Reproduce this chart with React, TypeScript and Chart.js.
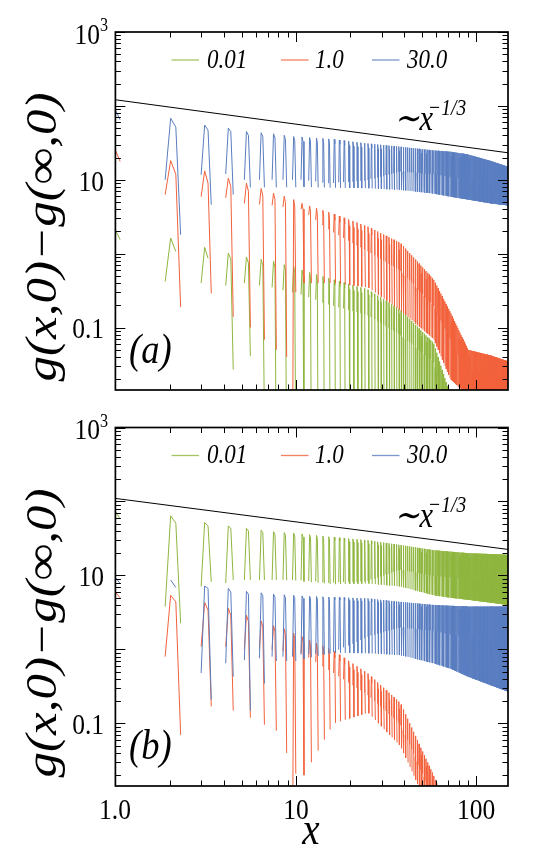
import React, { useEffect, useRef, useState } from "react";
import { Chart, registerables } from "chart.js";
Chart.register(...registerables);

// ---------- axes ----------
const X_MIN = 1;
const X_MAX = 150;
const Y_MIN = 0.0143;
const Y_MAX = 1000;
const xTickValues = [1, 10, 100];
const xTickLabels = ["1.0", "10", "100"];
const yTickValues = [1000, 10, 0.1];
const yTickBase = ["10", "10", "0.1"];
const yTickExp = ["3", "", ""];
const seriesNames = ["0.01", "1.0", "30.0"];
const seriesColors = ["#8fb63f", "#f2623c", "#5a7ec0"];

// sampling of the curves as seen in the picture: 8 samples per oscillation,
// the first 4 of each oscillation positive (drawn), the rest negative (gaps)
const SAMPLE_START = 0.787;
const SAMPLE_STEP = 0.1375;
const SAMPLES_PER_PERIOD = 8;

// envelope anchors (x at the centre of an oscillation)
const anchorX = [0.993, 2.093, 3.193, 4.293, 5.393, 7.593, 8.693, 9.793, 10.893, 16, 25, 38, 58, 72, 90, 120, 150];

// ---- panel (a): values of the 4 visible samples of every oscillation ----
const aGreenP0 = [3, 0.42, 0.4, 0.37, 0.4, 0.35, 0.32, 0.3, 0.28, 0.2, 0.15, 0.08, 0.035, 0.005, 0.001, 0.001, 0.001];
const aGreenP1 = [3.1, 1.63, 1.22, 1.02, 0.9, 0.79, 0.71, 0.68, 0.6, 0.45, 0.33, 0.175, 0.062, 0.012, 0.001, 0.001, 0.001];
const aGreenP2 = [1.55, 1.07, 0.87, 0.85, 0.75, 0.66, 0.6, 0.56, 0.5, 0.38, 0.28, 0.15, 0.05, 0.01, 0.001, 0.001, 0.001];
const aGreenP3 = [null, null, null, 0.027, 0.041, 0.001, 0.001, 0.001, 0.001, 0.001, 0.001, 0.001, 0.001, 0.001, 0.001, 0.001, 0.001];

const aRedP0 = [40, 6.3, 5.9, 5.7, 4.8, 4.5, 4.3, 0.001, 4.0, 2.0, 1.1, 0.6, 0.2, 0.07, 0.025, 0.022, 0.02];
const aRedP1 = [40, 18.2, 13.2, 10.5, 9, 6.6, 6, 5.4, 4.8, 3.5, 2.34, 1.4, 0.45, 0.16, 0.05, 0.042, 0.035];
const aRedP2 = [17.7, 11.9, 9.0, 8.1, 7.0, 5.4, 4.9, 4.4, 4.0, 2.9, 1.9, 1.1, 0.35, 0.12, 0.04, 0.032, 0.028];
const aRedP3 = [null, 0.19, 0.29, 0.14, 0.1, 0.05, 0.04, 0.3, 0.4, 0.4, 0.35, 0.17, 0.07, 0.02, 0.012, 0.012, 0.012];

const aBlueP0 = [20, 10, 11.7, 12, 10, 10, 10, 10, 10, 9, 10, 13, 12, 11, 10, 8, 7];
const aBlueP1 = [130, 68, 55, 50, 45, 42, 40, 38.5, 38, 35.5, 31, 28, 25, 24, 22, 18, 15];
const aBlueP2 = [65, 51.5, 47, 45, 40, 37, 35, 34, 33, 31, 27, 24.5, 22, 21, 19, 16, 13.5];
const aBlueP3 = [null, 1.8, 4.6, 6.3, 7.9, 7.9, 7.9, 7.9, 8, 7.8, 7.7, 7.3, 6.5, 5.9, 5.4, 4.8, 4.5];

// ---- panel (b) ----
const bGreenP0 = [20, 3.8, 7.1, 7.9, 8.7, 8.7, 8.7, 8.7, 8.6, 8, 8.5, 12, 10, 9.5, 9, 8.8, 8.7];
const bGreenP1 = [100, 64, 52, 46.7, 43.4, 39, 38, 37.4, 36.5, 33, 30, 25.8, 22, 21, 20, 19.5, 19];
const bGreenP2 = [58, 51, 46.7, 43.4, 40, 36, 35, 34, 33, 30, 27, 23, 19.5, 18.5, 18, 17.5, 17];
const bGreenP3 = [null, 2.26, 8.2, 8.7, 8.7, 8.7, 8.6, 8.5, 8.3, 7.6, 7.8, 7.1, 5.4, 5.0, 4.7, 4.3, 4.0];

const bRedP0 = [null, 0.8, 1.09, 1.09, 1.0, 1.0, 0.95, 0.001, 0.9, 0.5, 0.25, 0.1, 0.01, 0.001, 0.001, 0.001, 0.001];
const bRedP1 = [7.5, 5.4, 4.3, 3.6, 2.9, 2.1, 1.9, 1.66, 1.5, 0.98, 0.48, 0.19, 0.02, 0.005, 0.001, 0.001, 0.001];
const bRedP2 = [5.0, 4.4, 3.4, 2.9, 2.4, 1.75, 1.6, 1.4, 1.25, 0.8, 0.4, 0.15, 0.016, 0.004, 0.001, 0.001, 0.001];
const bRedP3 = [null, 0.07, 0.17, 0.15, 0.12, 0.08, 0.04, 0.021, 0.02, 0.1, 0.14, 0.049, 0.005, 0.001, 0.001, 0.001, 0.001];

const bBlueP0 = [null, null, 0.48, 0.65, 0.72, 0.8, 0.8, 0.8, 0.85, 0.9, 1.5, 2.0, 1.8, 1.6, 1.5, 1.3, 1.2];
const bBlueP1 = [12, 8.7, 7.2, 6.7, 6.1, 5.6, 5.5, 5.4, 5.3, 5.1, 4.9, 4.4, 4.0, 3.9, 3.8, 3.8, 3.8];
const bBlueP2 = [7.8, 6.9, 6.7, 6.0, 5.6, 5.1, 5.0, 5.0, 4.9, 4.7, 4.5, 4.0, 3.7, 3.6, 3.5, 3.5, 3.5];
const bBlueP3 = [null, null, 0.21, 0.43, 0.15, 0.7, 0.7, 0.7, 0.75, 0.9, 0.89, 0.84, 0.65, 0.55, 0.43, 0.33, 0.27];

// the ~x^(-1/3) guide line (end points)
const guideX = [1, 150];
const guideA = [121, 23.2];
const guideB = [110, 22.5];

type Val = number | null;

function envelopeAt(values: Val[], xc: number): Val {
  if (xc <= anchorX[0]) return values[0];
  const last = anchorX.length - 1;
  if (xc >= anchorX[last]) return values[last];
  for (let i = 0; i < last; i++) {
    const x0 = anchorX[i], x1 = anchorX[i + 1];
    if (Math.abs(xc - x0) < 1e-6) return values[i];
    if (Math.abs(xc - x1) < 1e-6) return values[i + 1];
    if (xc > x0 && xc < x1) {
      const v0 = values[i], v1 = values[i + 1];
      if (v0 == null || v1 == null) return null;
      const t = (Math.log(xc) - Math.log(x0)) / (Math.log(x1) - Math.log(x0));
      return Math.exp(Math.log(v0) + t * (Math.log(v1) - Math.log(v0)));
    }
  }
  return null;
}

function buildPoints(phases: Val[][]) {
  const pts: { x: number; y: Val }[] = [];
  const period = SAMPLE_STEP * SAMPLES_PER_PERIOD;
  const centreOffset = SAMPLE_STEP * 1.5;
  for (let k = 0; ; k++) {
    const x = SAMPLE_START + SAMPLE_STEP * k;
    if (x > X_MAX + 1.5) break;
    const n = Math.floor(k / SAMPLES_PER_PERIOD);
    const ph = k % SAMPLES_PER_PERIOD;
    if (ph >= 4) {
      if (ph === 4) pts.push({ x, y: null });
      continue;
    }
    const xc = SAMPLE_START + n * period + centreOffset;
    pts.push({ x, y: envelopeAt(phases[ph], xc) });
  }
  return pts;
}

const SERIF = "'Liberation Serif', 'Times New Roman', serif";
const SX = 0.85; // horizontal squeeze of the lettering in the picture
const ASC = 0.8375; // baseline position inside a line-height:1 box (Liberation Serif)

type Label = {
  text: string;
  x: number;
  y: number; // baseline
  size: number;
  italic?: boolean;
  align: 0 | 0.5 | 1;
  rotate?: boolean;
};

function makeFrame(panel: "a" | "b") {
  return {
    id: "frame" + panel,
    afterDatasetsDraw(chart: any) {
      const ctx: CanvasRenderingContext2D = chart.ctx;
      const a = chart.chartArea;
      const xs = chart.scales.x;
      const ys = chart.scales.y;
      ctx.save();
      ctx.strokeStyle = "#000";
      ctx.lineWidth = 1;
      ctx.beginPath();
      for (let d = 1; d <= 100; d *= 10) {
        for (let m = 1; m <= 9; m++) {
          const v = m * d;
          if (v < X_MIN || v > X_MAX) continue;
          const p = Math.round(xs.getPixelForValue(v)) + 0.5;
          const L = m === 1 ? 10 : 5.5;
          ctx.moveTo(p, a.bottom);
          ctx.lineTo(p, a.bottom - L);
          ctx.moveTo(p, a.top);
          ctx.lineTo(p, a.top + L);
        }
      }
      for (let e = -2; e <= 3; e++) {
        for (let m = 1; m <= 9; m++) {
          const v = m * Math.pow(10, e);
          if (v < Y_MIN || v > Y_MAX * 1.0001) continue;
          const p = Math.round(ys.getPixelForValue(v)) + 0.5;
          const L = m === 1 ? 10 : 5.5;
          ctx.moveTo(a.left, p);
          ctx.lineTo(a.left + L, p);
          ctx.moveTo(a.right, p);
          ctx.lineTo(a.right - L, p);
        }
      }
      ctx.stroke();
      ctx.lineWidth = 1.7;
      ctx.strokeRect(a.left, a.top, a.right - a.left, a.bottom - a.top);

      // legend line samples
      const legLineX = [171.5, 281, 372];
      const ly = a.top + 28;
      seriesNames.forEach((_, i) => {
        ctx.strokeStyle = seriesColors[i];
        ctx.globalAlpha = 0.8;
        ctx.lineWidth = 1.3;
        ctx.beginPath();
        ctx.moveTo(legLineX[i], ly);
        ctx.lineTo(legLineX[i] + 27.5, ly);
        ctx.stroke();
      });
      ctx.restore();
    },
  };
}

function labelsFor(panel: "a" | "b", chart: any): Label[] {
  const a = chart.chartArea;
  const xs = chart.scales.x;
  const ys = chart.scales.y;
  const out: Label[] = [];
  yTickValues.forEach((v, i) => {
    const p = ys.getPixelForValue(v);
    if (yTickExp[i]) {
      out.push({ text: yTickBase[i], x: a.left - 15, y: p + 12, size: 30, align: 1 });
      out.push({ text: yTickExp[i], x: a.left - 15, y: p - 1, size: 19, align: 0 });
    } else {
      out.push({ text: yTickBase[i], x: a.left - 11, y: p + 11, size: 30, align: 1 });
    }
  });
  if (panel === "b") {
    xTickValues.forEach((v, i) => {
      out.push({ text: xTickLabels[i], x: xs.getPixelForValue(v), y: a.bottom + 33, size: 30, align: 0.5 });
    });
    out.push({ text: "x", x: (a.left + a.right) / 2 - 1, y: a.bottom + 59, size: 46, italic: true, align: 0.5 });
  }
  out.push({
    text: "g(x,0)\u2212g(\u221e,0)",
    x: 42,
    y: (a.top + a.bottom) / 2 + 26,
    size: 51,
    italic: true,
    align: 0.5,
    rotate: true,
  });
  const legTextX = [206.5, 315, 407];
  seriesNames.forEach((name, i) => {
    out.push({ text: name, x: legTextX[i], y: a.top + 36.5, size: 27, italic: true, align: 0 });
  });
  const gy = panel === "a" ? a.top + 98 : a.top + 99.5;
  out.push({ text: "\u223cx", x: 394, y: gy, size: 36, italic: true, align: 0 });
  out.push({ text: "\u22121/3", x: 428, y: gy - 15, size: 23, italic: true, align: 0 });
  out.push({ text: panel === "a" ? "(a)" : "(b)", x: 129, y: a.bottom - 27, size: 43, italic: true, align: 0 });
  return out;
}

function makeConfig(panel: "a" | "b") {
  const isA = panel === "a";
  const green = isA ? [aGreenP0, aGreenP1, aGreenP2, aGreenP3] : [bGreenP0, bGreenP1, bGreenP2, bGreenP3];
  const red = isA ? [aRedP0, aRedP1, aRedP2, aRedP3] : [bRedP0, bRedP1, bRedP2, bRedP3];
  const blue = isA ? [aBlueP0, aBlueP1, aBlueP2, aBlueP3] : [bBlueP0, bBlueP1, bBlueP2, bBlueP3];
  const guide = isA ? guideA : guideB;
  const top = isA ? 32 : 427.5;
  const bottom = isA ? 390 : 786;
  const ds = (label: string, color: string, data: any, order: number) => ({
    label,
    data,
    borderColor: color,
    backgroundColor: color,
    borderWidth: 1,
    pointRadius: 0,
    tension: 0,
    spanGaps: false,
    order,
  });
  return {
    type: "line" as const,
    data: {
      datasets: [
        ds("guide", "#000", guideX.map((x, i) => ({ x, y: guide[i] })), 0),
        ds(seriesNames[0], seriesColors[0], buildPoints(green), 3),
        ds(seriesNames[1], seriesColors[1], buildPoints(red), 2),
        ds(seriesNames[2], seriesColors[2], buildPoints(blue), 1),
      ],
    },
    options: {
      responsive: false,
      animation: false,
      events: [],
      layout: { padding: { left: 115.4, right: 540 - 508, top, bottom: 849 - bottom } },
      plugins: { legend: { display: false }, tooltip: { enabled: false } },
      scales: {
        x: { type: "logarithmic", min: X_MIN, max: X_MAX, display: false },
        y: { type: "logarithmic", min: Y_MIN, max: Y_MAX, display: false },
      },
    },
    plugins: [makeFrame(panel)],
  };
}

function TextLabel({ l }: { l: Label }) {
  const base: React.CSSProperties = {
    position: "absolute",
    whiteSpace: "nowrap",
    lineHeight: 1,
    fontFamily: SERIF,
    fontSize: l.size,
    fontStyle: l.italic ? "italic" : "normal",
    color: "#000",
    transformOrigin: "0 0",
  };
  if (l.rotate) {
    return (
      <div style={{ ...base, left: l.x, top: l.y, transform: `scaleX(${SX}) rotate(-90deg) translate(-50%, -50%)` }}>{l.text}</div>
    );
  }
  return (
    <div
      style={{
        ...base,
        left: l.x,
        top: l.y - ASC * l.size,
        transform: `scaleX(${SX}) translateX(${-l.align * 100}%)`,
      }}
    >
      {l.text}
    </div>
  );
}

export default function App() {
  const refA = useRef<HTMLCanvasElement>(null);
  const refB = useRef<HTMLCanvasElement>(null);
  const [labels, setLabels] = useState<Label[]>([]);
  useEffect(() => {
    const ca = new Chart(refA.current!, makeConfig("a") as any);
    const cb = new Chart(refB.current!, makeConfig("b") as any);
    setLabels([...labelsFor("a", ca), ...labelsFor("b", cb)]);
    return () => {
      ca.destroy();
      cb.destroy();
    };
  }, []);
  const st: React.CSSProperties = { position: "absolute", left: 0, top: 0, width: 540, height: 849 };
  return (
    <div style={{ position: "absolute", left: 0, top: 0, width: 540, height: 849, background: "#fff", overflow: "hidden" }}>
      <canvas ref={refA} width={540} height={849} style={st} />
      <canvas ref={refB} width={540} height={849} style={st} />
      {labels.map((l, i) => (
        <TextLabel key={i} l={l} />
      ))}
    </div>
  );
}
